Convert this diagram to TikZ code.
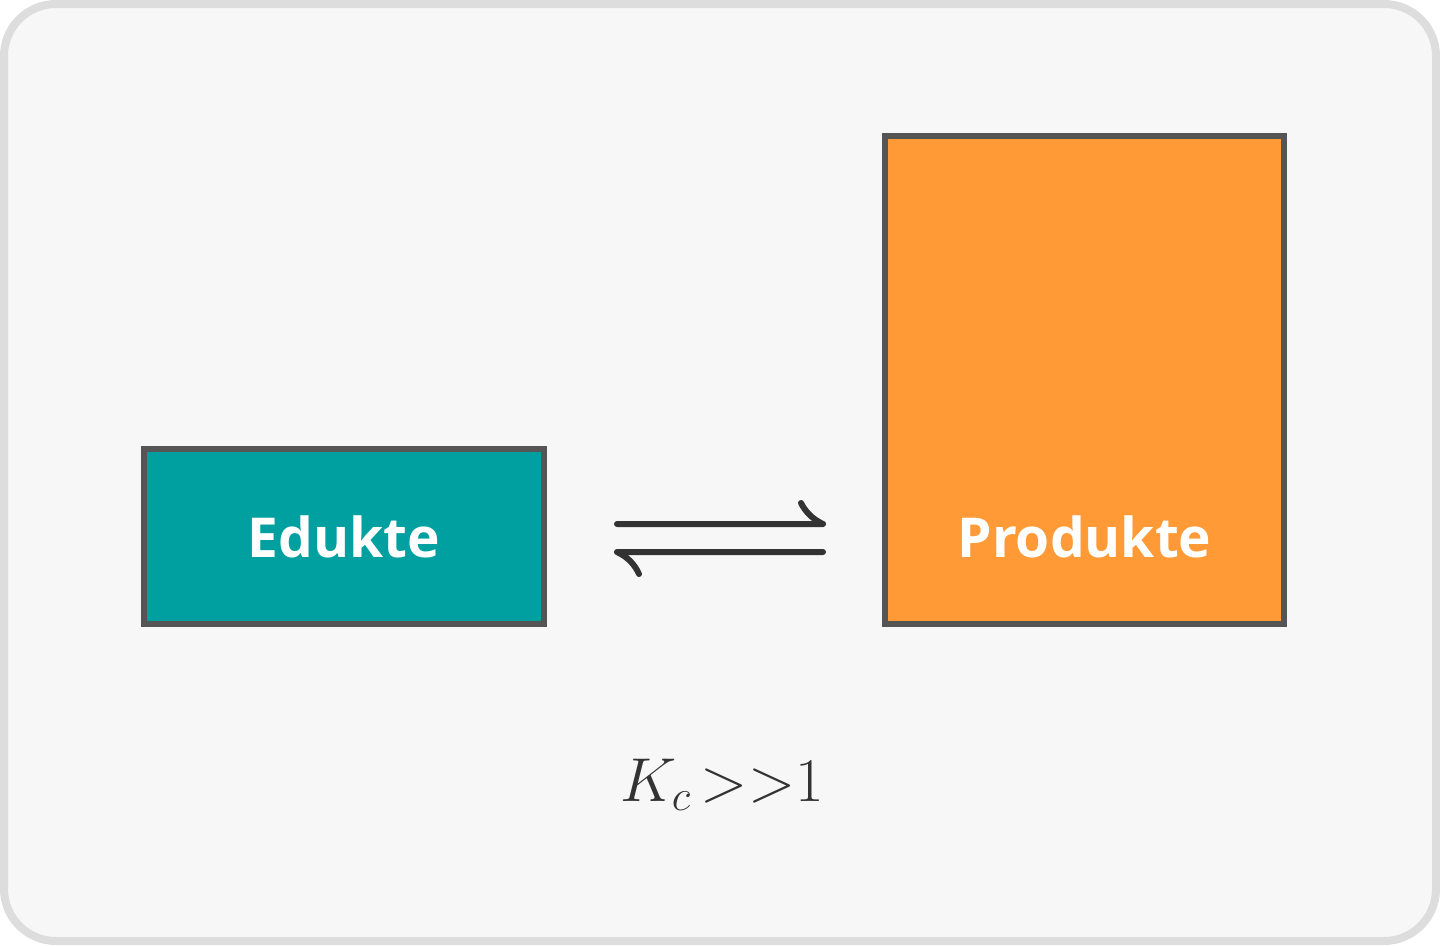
\documentclass[tikz,border=0pt]{standalone}
\usepackage{fix-cm}
\usepackage{fontspec}
\newfontfamily\labelfont{Open Sans}
\definecolor{framefill}{HTML}{F7F7F7}
\definecolor{framedraw}{HTML}{DDDDDD}
\definecolor{boxdraw}{HTML}{555555}
\definecolor{tealfill}{HTML}{00A0A0}
\definecolor{orangefill}{HTML}{FF9A36}
\definecolor{inkc}{HTML}{333333}
\begin{document}
\begin{tikzpicture}[x=1pt,y=-1pt,
  species/.style={draw=boxdraw,line width=6pt,inner sep=0pt,outer sep=0pt},
  spectext/.style={text=white,font=\labelfont\bfseries\fontsize{55}{60}\selectfont},
  harpoon/.style={draw=inkc,line width=6pt,line cap=round,line join=round}]
\useasboundingbox (0,0) rectangle (1440,945);
\fill[white] (0,0) rectangle (1440,945);
\draw[fill=framefill,draw=framedraw,line width=8pt,rounded corners=52pt] (4,4) rectangle (1436,941);
\node[species,fill=tealfill,minimum width=400pt,minimum height=175pt] (edukte) at (344,536.5) {};
\node[spectext] at (edukte.center) {Edukte};
\node[species,fill=orangefill,minimum width=399pt,minimum height=488pt] (produkte) at (1084.5,380) {};
\node[spectext] at (1084.5,536.5) {Produkte};
\coordinate (a1) at (617,524);
\coordinate (a2) at (823,524);
\coordinate (b1) at (617,552);
\coordinate (b2) at (823,552);
\draw[harpoon] (a1) -- (a2) .. controls (812,519) and (805,511) .. (801,503);
\draw[harpoon] (b2) -- (b1) .. controls (628,557) and (635,565) .. (639,574);
\node[text=inkc,font=\fontsize{62}{70}\selectfont] (kc) at (722,785) {$K_c\,{>}{>}1$};
\end{tikzpicture}
\end{document}
